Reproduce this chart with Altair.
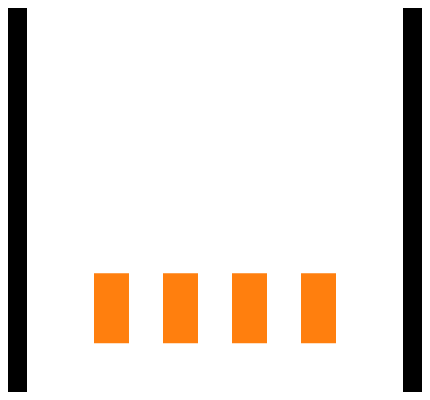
import altair as alt
import pandas as pd

categories = ["A", "B", "C", "D"]
bar_low = [0.7, 0.7, 0.7, 0.7]
bar_high = [1.7, 1.7, 1.7, 1.7]

df = pd.DataFrame({"category": categories, "low": bar_low, "high": bar_high})

chart = (
    alt.Chart(df)
    .mark_bar(color="#ff7f0e")
    .encode(
        x=alt.X("category:N", axis=None,
                scale=alt.Scale(paddingInner=0.493, paddingOuter=0.971)),
        y=alt.Y("low:Q", axis=None, scale=alt.Scale(domain=[0, 5.5], nice=False, zero=True)),
        y2="high:Q",
    )
    .properties(
        width=376,
        height=384,
        background="black",
        padding={"left": 19, "top": 0, "right": 19, "bottom": 0},
    )
    .configure_view(fill="white", strokeWidth=0)
)

chart.save("out.html", embed_options={"renderer": "svg", "actions": False})
